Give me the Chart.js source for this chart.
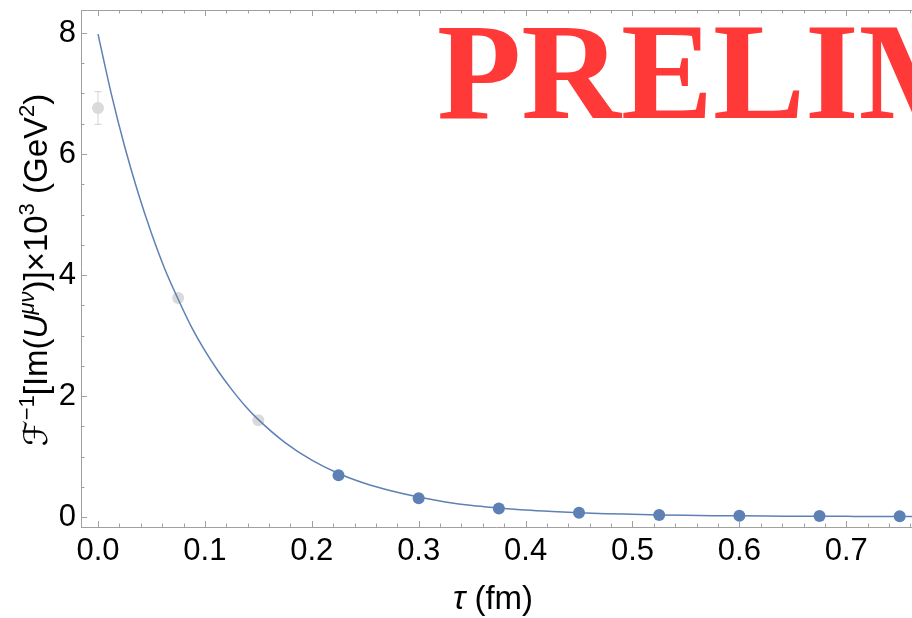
<!DOCTYPE html>
<html><head><meta charset="utf-8">
<script src="https://cdn.jsdelivr.net/npm/chart.js@4"></script>
<style>html,body{margin:0;padding:0;background:#fff}#wrap{width:912px;height:618px}</style>
</head><body><div id="wrap"><canvas id="c" width="912" height="618"></canvas></div>
<script>
// ---- data ----
const tauExcluded = [0, 0.075, 0.15];
const valExcluded = [6.76, 3.62, 1.60];
const errExcluded = [0.27, 0.05, 0.04];
const tauFit = [0.225, 0.3, 0.375, 0.45, 0.525, 0.6, 0.675, 0.75];
const valFit = [0.69, 0.31, 0.14, 0.07, 0.035, 0.02, 0.015, 0.012];
const curveTau = [0, 0.0125, 0.025, 0.0375, 0.05, 0.0625, 0.075, 0.0875, 0.1, 0.1125, 0.125, 0.1375, 0.15, 0.175, 0.2, 0.225, 0.25, 0.275, 0.3, 0.325, 0.35, 0.375, 0.4, 0.425, 0.45, 0.475, 0.5, 0.525, 0.55, 0.575, 0.6, 0.625, 0.65, 0.675, 0.7, 0.725, 0.75, 0.762];
const curveVal = [7.98, 6.99, 6.12, 5.36, 4.69, 4.10, 3.60, 3.14, 2.75, 2.41, 2.11, 1.84, 1.61, 1.23, 0.94, 0.72, 0.555, 0.43, 0.33, 0.25, 0.19, 0.15, 0.115, 0.09, 0.07, 0.055, 0.045, 0.035, 0.028, 0.023, 0.019, 0.016, 0.014, 0.012, 0.011, 0.010, 0.010, 0.010];
const xTickValues = [0, 0.1, 0.2, 0.3, 0.4, 0.5, 0.6, 0.7];
const xTickLabels = ['0.0', '0.1', '0.2', '0.3', '0.4', '0.5', '0.6', '0.7'];
const yTickValues = [0, 2, 4, 6, 8];
const yTickLabels = ['0', '2', '4', '6', '8'];
const xTitle = ['τ', ' (fm)'];
const watermark = 'PRELIM';

const BLUE = 'rgb(94,129,181)';
const GRAY = 'rgb(218,218,218)';
const AXIS = 'rgb(160,160,160)';
const FONT = '"Liberation Sans", Arial, "DejaVu Sans", sans-serif';

const framePlugin = {
  id: 'frame',
  beforeDatasetsDraw(chart) {
    const ctx = chart.ctx, x = chart.scales.x, y = chart.scales.y;
    // watermark
    ctx.save();
    ctx.fillStyle = 'rgb(255,56,56)';
    ctx.font = 'bold 138px "Liberation Serif", "Times New Roman", serif';
    ctx.textBaseline = 'alphabetic';
    ctx.fillText(watermark, 437, 118);
    ctx.restore();
    // error bars
    ctx.save();
    ctx.strokeStyle = GRAY; ctx.lineWidth = 1.2;
    tauExcluded.forEach((t, i) => {
      const px = x.getPixelForValue(t);
      const p1 = y.getPixelForValue(valExcluded[i] + errExcluded[i]);
      const p2 = y.getPixelForValue(valExcluded[i] - errExcluded[i]);
      ctx.beginPath();
      ctx.moveTo(px, p1); ctx.lineTo(px, p2);
      ctx.moveTo(px - 3.5, p1); ctx.lineTo(px + 3.5, p1);
      ctx.moveTo(px - 3.5, p2); ctx.lineTo(px + 3.5, p2);
      ctx.stroke();
    });
    ctx.restore();
  },
  afterDraw(chart) {
    const ctx = chart.ctx, x = chart.scales.x, y = chart.scales.y;
    const a = chart.chartArea;
    ctx.save();
    ctx.strokeStyle = AXIS; ctx.lineWidth = 1;
    ctx.beginPath();
    ctx.moveTo(a.left + 0.5, a.top + 0.5); ctx.lineTo(a.right, a.top + 0.5);
    ctx.moveTo(a.left + 0.5, a.top); ctx.lineTo(a.left + 0.5, a.bottom + 0.5);
    ctx.moveTo(a.left, a.bottom + 0.5); ctx.lineTo(a.right, a.bottom + 0.5);
    // x ticks (inward, bottom and top)
    for (let k = 0; k <= 38; k++) {
      const v = k * 0.02;
      const px = Math.round(x.getPixelForValue(v)) + 0.5;
      if (px > a.right) continue;
      const len = (k % 5 === 0) ? 6 : 3.5;
      ctx.moveTo(px, a.bottom); ctx.lineTo(px, a.bottom - len);
      ctx.moveTo(px, a.top); ctx.lineTo(px, a.top + len);
    }
    // y ticks (inward)
    for (let k = 0; k <= 16; k++) {
      const v = k * 0.5;
      const py = Math.round(y.getPixelForValue(v)) + 0.5;
      const len = (k % 4 === 0) ? 6 : 3.5;
      ctx.moveTo(a.left, py); ctx.lineTo(a.left + len, py);
    }
    ctx.stroke();
    ctx.restore();

    // y title with superscripts
    const fs = 33, ss = 22;
    const segs = [
      {t: 'ℱ', f: `italic ${fs}px "DejaVu Sans", sans-serif`, sup: false},
      {t: '−1', f: `${ss}px ${FONT}`, sup: true},
      {t: '[Im(', f: `${fs}px ${FONT}`, sup: false},
      {t: 'U', f: `italic ${fs}px ${FONT}`, sup: false},
      {t: 'μν', f: `italic ${ss}px ${FONT}`, sup: true},
      {t: ')]×10', f: `${fs}px ${FONT}`, sup: false},
      {t: '3', f: `${ss}px ${FONT}`, sup: true},
      {t: ' (GeV', f: `${fs}px ${FONT}`, sup: false},
      {t: '2', f: `${ss}px ${FONT}`, sup: true},
      {t: ')', f: `${fs}px ${FONT}`, sup: false}
    ];
    ctx.save();
    ctx.fillStyle = '#000';
    let total = 0;
    segs.forEach(s => { ctx.font = s.f; s.w = ctx.measureText(s.t).width; total += s.w; });
    ctx.translate(47, 270);
    ctx.rotate(-Math.PI / 2);
    let cx = -total / 2;
    ctx.textBaseline = 'alphabetic';
    segs.forEach(s => {
      ctx.font = s.f;
      ctx.fillText(s.t, cx, s.sup ? -13 : 0);
      cx += s.w;
    });
    ctx.restore();

    // x title
    ctx.save();
    ctx.fillStyle = '#000';
    ctx.textBaseline = 'alphabetic';
    const f1 = `italic ${fs}px ${FONT}`, f2 = `${fs}px ${FONT}`;
    ctx.font = f1; const w1 = ctx.measureText(xTitle[0]).width;
    ctx.font = f2; const w2 = ctx.measureText(xTitle[1]).width;
    let sx = 493 - (w1 + w2) / 2;
    ctx.font = f1; ctx.fillText(xTitle[0], sx, 609);
    ctx.font = f2; ctx.fillText(xTitle[1], sx + w1, 609);
    ctx.restore();
  }
};

new Chart(document.getElementById('c'), {
  type: 'scatter',
  data: {
    datasets: [
      {
        label: 'fit points',
        data: tauFit.map((t, i) => ({x: t, y: valFit[i]})),
        backgroundColor: BLUE, borderColor: BLUE, pointRadius: 6, pointBorderWidth: 0,
        order: 1
      },
      {
        label: 'curve',
        data: curveTau.map((t, i) => ({x: t, y: curveVal[i]})),
        showLine: true, borderColor: BLUE, borderWidth: 1.5, pointRadius: 0,
        cubicInterpolationMode: 'monotone', fill: false,
        order: 2
      },
      {
        label: 'excluded points',
        data: tauExcluded.map((t, i) => ({x: t, y: valExcluded[i]})),
        backgroundColor: GRAY, borderColor: GRAY, pointRadius: 6, pointBorderWidth: 0,
        order: 3
      }
    ]
  },
  options: {
    responsive: false,
    animation: false,
    clip: false,
    layout: {autoPadding: false, padding: {top: 10, left: 0, right: 0, bottom: 0}},
    plugins: {legend: {display: false}, tooltip: {enabled: false}},
    scales: {
      x: {
        type: 'linear', min: -0.0159, max: 0.7615,
        grid: {display: false, drawTicks: false},
        border: {display: false},
        afterBuildTicks: s => { s.ticks = xTickValues.map(v => ({value: v})); },
        ticks: {
          autoSkip: false, maxRotation: 0, padding: 6, color: '#000',
          font: {family: FONT, size: 31},
          callback: (v) => { const i = xTickValues.findIndex(t => Math.abs(t - v) < 1e-9); return i >= 0 ? xTickLabels[i] : ''; }
        },
        afterFit: s => { s.height = 91; s.paddingLeft = 0; s.paddingRight = 0; }
      },
      y: {
        type: 'linear', min: -0.165, max: 8.38,
        grid: {display: false, drawTicks: false},
        border: {display: false},
        afterBuildTicks: s => { s.ticks = yTickValues.map(v => ({value: v})); },
        ticks: {
          autoSkip: false, padding: 5, color: '#000',
          font: {family: FONT, size: 31},
          callback: (v) => { const i = yTickValues.findIndex(t => Math.abs(t - v) < 1e-9); return i >= 0 ? yTickLabels[i] : ''; }
        },
        afterFit: s => { s.width = 81; s.paddingTop = 0; s.paddingBottom = 0; }
      }
    }
  },
  plugins: [framePlugin]
});
</script>
</body></html>
